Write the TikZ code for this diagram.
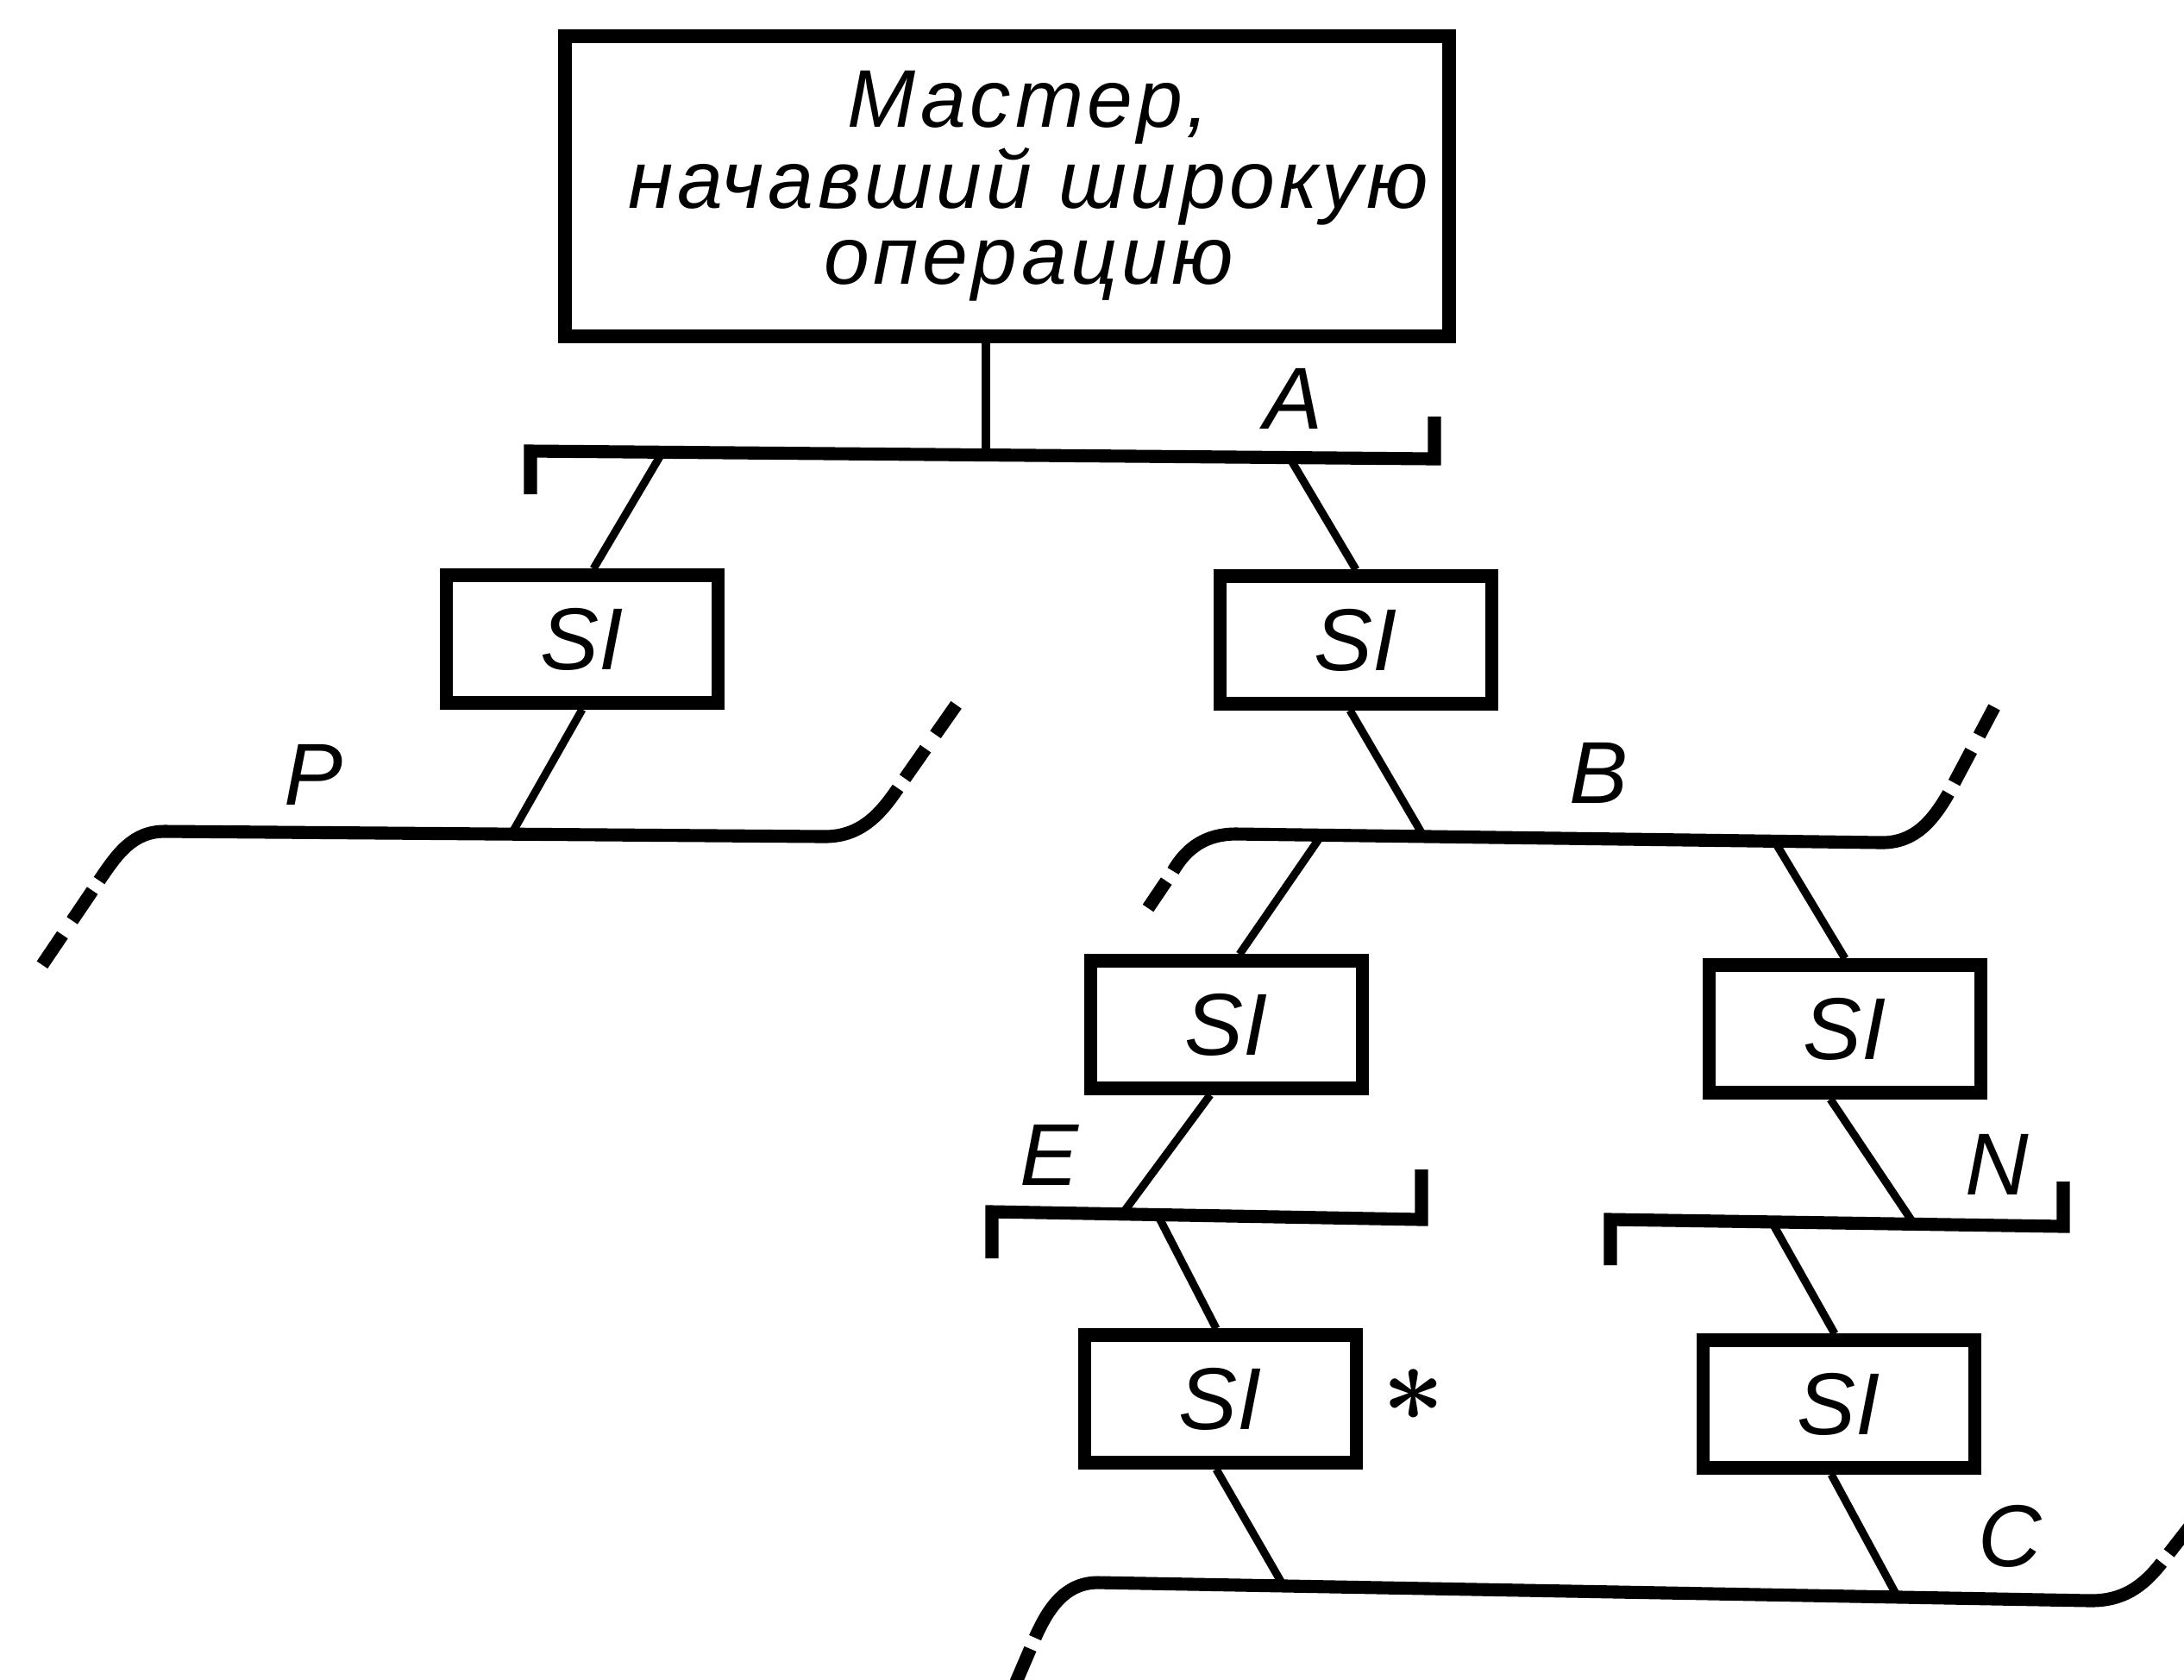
\documentclass[tikz,border=0pt]{standalone}
\usepackage{fontspec}
\setmainfont{Liberation Sans}
\newfontfamily\gost{Liberation Sans}[LetterSpace=5]
\usepackage{tikz}
\usetikzlibrary{positioning, calc}

\begin{document}
\begin{tikzpicture}[
    unit/.style={draw, line width=4.3pt, minimum width=3.15cm, minimum height=1.48cm, inner sep=0pt,
        font=\fontsize{29}{29}\selectfont\itshape},
    bus/.style={line width=4.3pt},
    stub/.style={line width=4.3pt, dash pattern=on 0.42cm off 0.2cm, dash phase=0.48cm},
    wire/.style={line width=2.6pt},
    lbl/.style={font=\fontsize{29}{29}\selectfont\itshape, inner sep=0pt}
]
\useasboundingbox (0,0) rectangle (25.32,-19.47);

% master and SI units
\node[draw, line width=4.5pt, minimum width=10.25cm, minimum height=3.48cm, align=center,
    font=\gost\fontsize{27}{25.3}\selectfont\itshape] (mst) at (11.675,-2.16)
    {\hspace*{0.5cm}Мастер,\\\hspace*{0.5cm}начавший широкую\\\hspace*{0.5cm}операцию};
\node[unit] (si1) at (6.75,-7.41) {SI};
\node[unit] (si2) at (15.72,-7.42) {SI};
\node[unit] (si3) at (14.22,-11.88) {SI};
\node[unit] (si4) at (21.39,-11.93) {SI};
\node[unit] (si5) at (14.15,-16.22) {SI};
\node[unit] (si6) at (21.32,-16.28) {SI};
\node[scale=3.6, font=\boldmath] (star) at (16.39,-16.18) {$\ast$};

% buses
\draw[bus] (6.15,-5.73) -- (6.15,-5.23) -- (16.63,-5.32) -- (16.63,-4.83);
\draw[bus] (1.15,-10.21) to[out=56,in=180] (1.91,-9.64) -- (9.56,-9.70) to[out=0,in=236] (10.41,-9.14);
\draw[stub] (1.15,-10.21) -- (0.42,-11.29);
\draw[stub] (10.41,-9.14) -- (11.13,-8.11);
\draw[bus] (13.60,-10.10) to[out=60,in=180] (14.33,-9.67) -- (21.82,-9.77) to[out=0,in=240] (22.59,-9.20);
\draw[stub] (13.60,-10.10) -- (13.31,-10.53);
\draw[stub] (22.59,-9.20) -- (23.12,-8.20);
\draw[bus] (11.50,-14.59) -- (11.50,-14.05) -- (16.48,-14.14) -- (16.48,-13.56);
\draw[bus] (18.67,-14.67) -- (18.67,-14.14) -- (23.92,-14.22) -- (23.92,-13.70);
\draw[bus] (12.00,-18.99) to[out=66,in=180] (12.73,-18.35) -- (24.24,-18.56) to[out=0,in=232] (25.06,-18.12);
\draw[stub] (12.00,-18.99) -- (11.76,-19.55);
\draw[stub] (25.06,-18.12) -- (25.45,-17.62);

\coordinate (a0) at (11.43,-5.275);
\coordinate (a1) at (7.68,-5.243);
\coordinate (a2) at (14.95,-5.306);
\coordinate (p0) at (5.93,-9.67);
\coordinate (b0) at (16.50,-9.69);
\coordinate (b1) at (15.32,-9.685);
\coordinate (b2) at (20.57,-9.75);
\coordinate (e0) at (13.01,-14.077);
\coordinate (e1) at (13.42,-14.085);
\coordinate (n0) at (22.19,-14.194);
\coordinate (n1) at (20.54,-14.168);
\coordinate (c0) at (14.88,-18.389);
\coordinate (c1) at (22.00,-18.519);

% bus names
\node[lbl] (la) at (14.99,-4.62) {A};
\node[lbl] (lp) at (3.63,-8.98) {P};
\node[lbl] (lb) at (18.53,-8.96) {B};
\node[lbl] (le) at (12.16,-13.39) {E};
\node[lbl] (ln) at (23.15,-13.50) {N};
\node[lbl] (lc) at (23.30,-17.81) {C};

% connections
\draw[wire] (a0) -- (a0 |- mst.south);
\draw[wire] (a1) -- ($(si1.north)+(0.13,0)$);
\draw[wire] (a2) -- (si2.north);
\draw[wire] (si1.south) -- (p0);
\draw[wire] ($(si2.south)+(-0.07,0)$) -- (b0);
\draw[wire] (b1) -- ($(si3.north)+(0.15,0)$);
\draw[wire] (b2) -- (si4.north);
\draw[wire] ($(si3.south)+(-0.19,0)$) -- (e0);
\draw[wire] ($(si4.south)+(-0.17,0)$) -- (n0);
\draw[wire] (e1) -- ($(si5.north)+(-0.05,0)$);
\draw[wire] (n1) -- ($(si6.north)+(-0.05,0)$);
\draw[wire] ($(si5.south)+(-0.05,0)$) -- (c0);
\draw[wire] ($(si6.south)+(-0.09,0)$) -- (c1);

\end{tikzpicture}
\end{document}
